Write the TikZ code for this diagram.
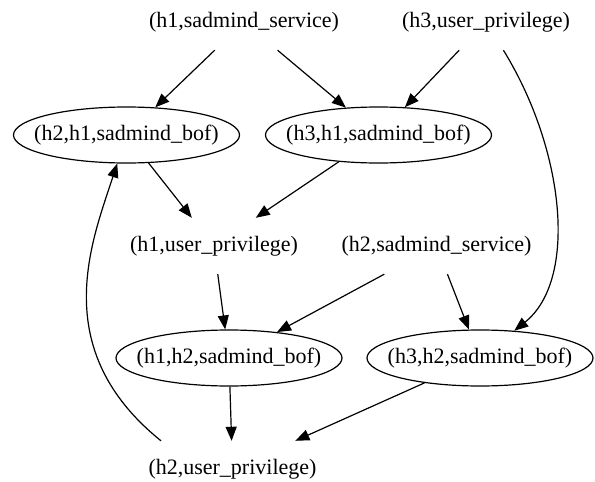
\documentclass[tikz,border=0pt]{standalone}
\usepackage{fontspec}
\setmainfont{Liberation Serif}
\usetikzlibrary{arrows.meta,shapes.geometric}
\newcommand{\zw}[1]{\makebox[0pt]{#1}}
\begin{document}
\begin{tikzpicture}[x=1pt,y=-1pt,
  every node/.style={font=\fontsize{22}{26}\selectfont},
  plain/.style={rectangle, minimum height=56pt, inner sep=0pt, inner xsep=12pt},
  ell/.style={ellipse, draw, line width=1.2pt, minimum width=226pt, minimum height=56pt, inner sep=0pt},
  edge/.style={line width=1.2pt, -{Triangle[length=14pt,width=11pt]}}]
\useasboundingbox (0,0) rectangle (595,482);
\node[plain] (h1svc) at (244,22) {(h1,sadmind\_service)};
\node[plain] (h3up) at (486,22) {(h3,user\_privilege)};
\node[ell] (h2h1) at (126.5,135) {\zw{(h2,h1,sadmind\_bof)}};
\node[ell] (h3h1) at (378.5,135) {\zw{(h3,h1,sadmind\_bof)}};
\node[plain] (h1up) at (214,246) {(h1,user\_privilege)};
\node[plain] (h2svc) at (436.5,246) {(h2,sadmind\_service)};
\node[ell] (h1h2) at (229,358) {\zw{(h1,h2,sadmind\_bof)}};
\node[ell] (h3h2) at (480,358) {\zw{(h3,h2,sadmind\_bof)}};
\node[plain] (h2up) at (232.5,469) {(h2,user\_privilege)};
\coordinate (loopstart) at ([xshift=-71.5pt]h2up.north);
\draw[edge] (h1svc) -- (h2h1);
\draw[edge] (h1svc) -- (h3h1);
\draw[edge] (h3up) -- (h3h1);
\draw[edge] (h3up) .. controls (565,150) and (578,280) .. (h3h2);
\draw[edge] (h2h1) -- (h1up);
\draw[edge] (h3h1) -- (h1up);
\draw[edge] (h1up) -- (h1h2);
\draw[edge] (h2svc) -- (h1h2);
\draw[edge] (h2svc) -- (h3h2);
\draw[edge] (h1h2) -- (h2up);
\draw[edge] (h3h2) -- (h2up);
\draw[edge] (loopstart) .. controls (47,349) and (92,241) .. (h2h1);
\end{tikzpicture}
\end{document}
